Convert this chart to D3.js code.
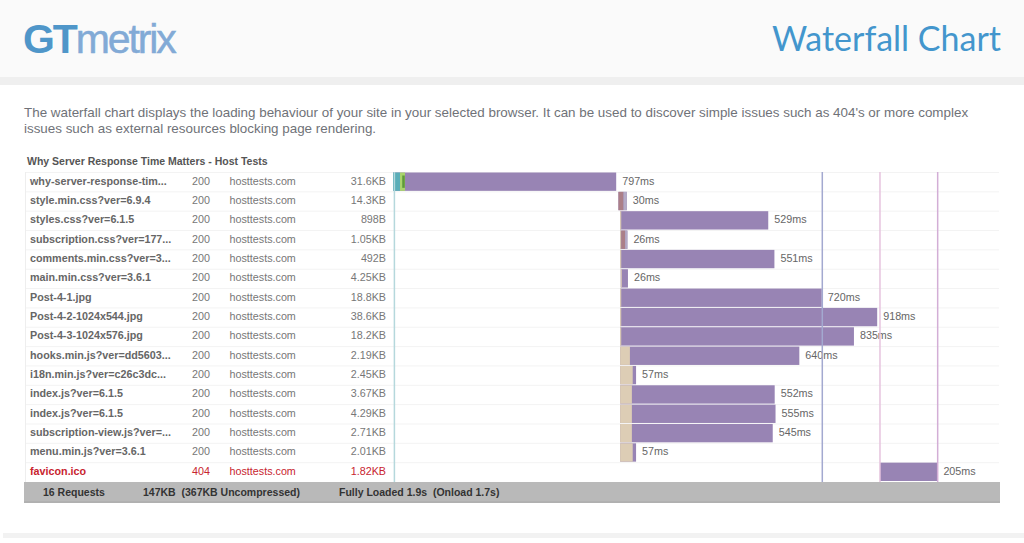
<!DOCTYPE html>
<html lang="en">

<head>
    <meta charset="UTF-8">
    <title>Waterfall Chart</title>
    <style>
        html, body {
            margin: 0;
            padding: 0;
            background: #fff;
            overflow: hidden;
        }

        svg {
            display: block;
            font-family: "Liberation Sans", sans-serif;
        }

        .row-text {
            font-size: 10.75px;
            fill: #777;
        }

        .name {
            font-weight: bold;
            fill: #666;
        }

        .row-text.error {
            fill: #c8242f;
        }

        .ms {
            font-size: 10.75px;
            fill: #666;
        }

        .foot text {
            font-size: 10.5px;
            font-weight: bold;
            fill: #333;
        }
    </style>
</head>

<body>
    <svg class="chart" width="1024" height="543"></svg>
    <script src="https://d3js.org/d3.v7.min.js"></script>
    <script>
        let files = ["why-server-response-tim...", "style.min.css?ver=6.9.4", "styles.css?ver=6.1.5",
            "subscription.css?ver=177...", "comments.min.css?ver=3...", "main.min.css?ver=3.6.1",
            "Post-4-1.jpg", "Post-4-2-1024x544.jpg", "Post-4-3-1024x576.jpg", "hooks.min.js?ver=dd5603...",
            "i18n.min.js?ver=c26c3dc...", "index.js?ver=6.1.5", "index.js?ver=6.1.5",
            "subscription-view.js?ver=...", "menu.min.js?ver=3.6.1", "favicon.ico"];
        let statuses = [200, 200, 200, 200, 200, 200, 200, 200, 200, 200, 200, 200, 200, 200, 200, 404];
        let host = "hosttests.com";
        let sizes = ["31.6KB", "14.3KB", "898B", "1.05KB", "492B", "4.25KB", "18.8KB", "38.6KB",
            "18.2KB", "2.19KB", "2.45KB", "3.67KB", "4.29KB", "2.71KB", "2.01KB", "1.82KB"];

        // timings in ms
        let starts = [0, 805, 811, 811, 811, 813, 811, 811, 811, 811, 811, 811, 811, 811, 811, 1739];
        let durations = [797, 30, 529, 26, 551, 26, 720, 918, 835, 640, 57, 552, 555, 545, 57, 205];
        let blocked = [0, 0, 4, 4, 4, 4, 4, 4, 4, 35, 45, 42, 42, 42, 45, 0];
        let dns = [25, 0, 0, 0, 0, 0, 0, 0, 0, 0, 0, 0, 0, 0, 0, 0];
        let connect = [18, 18, 0, 14, 0, 0, 0, 0, 0, 0, 0, 0, 0, 0, 0, 0];
        let receiveLight = [0, 12, 0, 8, 0, 0, 0, 0, 0, 0, 0, 0, 0, 0, 0, 0];

        let markers = [5, 1533, 1739, 1945];
        let markerColors = ["#b5d8dc", "#a3a9d0", "#e6c3de", "#d3aed6"];

        let x = d3.scaleLinear().domain([0, 2164]).range([393, 999]);
        let y = d3.scaleBand().domain(d3.range(files.length)).range([172, 481.5]);

        let svg = d3.select(".chart");

        // page header and bottom strip
        svg.append("rect").attr("width", 1024).attr("height", 77).attr("fill", "#fafafa");
        svg.append("rect").attr("y", 77).attr("width", 1024).attr("height", 8).attr("fill", "#efefef");
        svg.append("rect").attr("x", 3).attr("y", 533).attr("width", 1021).attr("height", 5).attr("fill", "#f2f2f2");

        let logo = svg.append("text")
            .attr("x", 23).attr("y", 53)
            .style("font-size", "41px")
            .style("letter-spacing", "-2.1px");
        logo.append("tspan").attr("fill", "#4f96c9").style("font-weight", "bold").text("GT");
        logo.append("tspan").attr("fill", "#82aad6").attr("stroke", "#82aad6").attr("stroke-width", 0.5).text("metrix");

        svg.append("text")
            .attr("x", 1001).attr("y", 51)
            .attr("text-anchor", "end")
            .attr("fill", "#4396cd")
            .style("font-family", "Lato")
            .style("font-size", "34px")
            .text("Waterfall Chart");

        let intro = ["The waterfall chart displays the loading behaviour of your site in your selected browser. It can be used to discover simple issues such as 404's or more complex",
            "issues such as external resources blocking page rendering."];
        svg.selectAll(".intro")
            .data(intro)
            .enter().append("text")
            .attr("class", "intro")
            .attr("x", 24)
            .attr("y", (d, i) => 117 + i * 16)
            .attr("fill", "#6f7278")
            .style("font-size", "13.4px")
            .text(d => d);

        svg.append("text")
            .attr("x", 27).attr("y", 165)
            .attr("fill", "#555")
            .style("font-size", "10.5px")
            .style("font-weight", "bold")
            .text("Why Server Response Time Matters - Host Tests");

        // row separators and left border
        svg.selectAll(".sep")
            .data(d3.range(files.length))
            .enter().append("line")
            .attr("class", "sep")
            .attr("x1", 25).attr("x2", 999)
            .attr("y1", d => y(d) + 0.5).attr("y2", d => y(d) + 0.5)
            .attr("stroke", "#f3f3f3");
        svg.append("line").attr("x1", 25.5).attr("x2", 25.5).attr("y1", 172).attr("y2", 482).attr("stroke", "#eee");

        let rows = svg.selectAll(".row")
            .data(files)
            .enter().append("g")
            .attr("class", "row")
            .attr("transform", (d, i) => `translate(0,${y(i) + y.bandwidth() / 2 + 3})`);

        rows.append("text")
            .attr("class", (d, i) => "row-text name" + (statuses[i] == 404 ? " error" : ""))
            .attr("x", 30)
            .text(d => d);
        rows.append("text")
            .attr("class", (d, i) => "row-text" + (statuses[i] == 404 ? " error" : ""))
            .attr("x", 192)
            .text((d, i) => statuses[i]);
        rows.append("text")
            .attr("class", (d, i) => "row-text" + (statuses[i] == 404 ? " error" : ""))
            .attr("x", 229.5)
            .text(host);
        rows.append("text")
            .attr("class", (d, i) => "row-text" + (statuses[i] == 404 ? " error" : ""))
            .attr("x", 386)
            .attr("text-anchor", "end")
            .text((d, i) => sizes[i]);

        // bars: main receive bar first, phases on top
        let barH = y.bandwidth() - 1;
        let barY = i => y(i) + 0.5;

        svg.selectAll(".bar")
            .data(durations)
            .enter().append("rect")
            .attr("class", "bar")
            .attr("x", (d, i) => x(starts[i]))
            .attr("y", (d, i) => barY(i))
            .attr("width", d => x(d) - x(0))
            .attr("height", barH)
            .attr("fill", "#9884b4");

        let phases = [
            { values: blocked, color: "#ddcdb5", offset: i => 0 },
            { values: dns, color: "#5aaeb8", offset: i => 0 },
            { values: connect, color: "#ab7f88", offset: i => blocked[i] + dns[i] }
        ];
        phases.forEach(p => {
            p.values.forEach((v, i) => {
                if (v > 0) {
                    svg.append("rect")
                        .attr("x", x(starts[i] + p.offset(i)))
                        .attr("y", barY(i))
                        .attr("width", x(v) - x(0))
                        .attr("height", barH)
                        .attr("fill", i == 0 && p.values === connect ? "#a9d46c" : p.color);
                }
            });
        });
        receiveLight.forEach((v, i) => {
            if (v > 0) {
                svg.append("rect")
                    .attr("x", x(starts[i] + durations[i] - v))
                    .attr("y", barY(i))
                    .attr("width", x(v) - x(0))
                    .attr("height", barH)
                    .attr("fill", "#b4abc6");
            }
        });
        // dark ssl part in the first row
        svg.append("rect")
            .attr("x", x(33)).attr("y", barY(0) + 3)
            .attr("width", x(9) - x(0)).attr("height", barH - 6)
            .attr("fill", "#5f9a3a");

        svg.selectAll(".ms-label")
            .data(durations)
            .enter().append("text")
            .attr("class", "ms ms-label")
            .attr("x", (d, i) => x(starts[i] + d) + 6)
            .attr("y", (d, i) => y(i) + y.bandwidth() / 2 + 3)
            .text(d => d + "ms");

        svg.selectAll(".marker")
            .data(markers)
            .enter().append("line")
            .attr("class", "marker")
            .attr("x1", d => x(d)).attr("x2", d => x(d))
            .attr("y1", 172).attr("y2", 482)
            .attr("stroke", (d, i) => markerColors[i])
            .attr("stroke-width", 1.5);

        // totals bar
        let foot = svg.append("g").attr("class", "foot");
        foot.append("rect").attr("x", 24).attr("y", 482).attr("width", 976).attr("height", 21).attr("fill", "#b9b9b9");
        foot.append("line").attr("x1", 24).attr("x2", 1000).attr("y1", 502).attr("y2", 502).attr("stroke", "#a8a8a8");
        foot.append("text").attr("x", 43).attr("y", 496).text("16 Requests");
        foot.append("text").attr("x", 143).attr("y", 496).attr("xml:space", "preserve").text("147KB  (367KB Uncompressed)");
        foot.append("text").attr("x", 339).attr("y", 496).attr("xml:space", "preserve").text("Fully Loaded 1.9s  (Onload 1.7s)");
    </script>
</body>

</html>
